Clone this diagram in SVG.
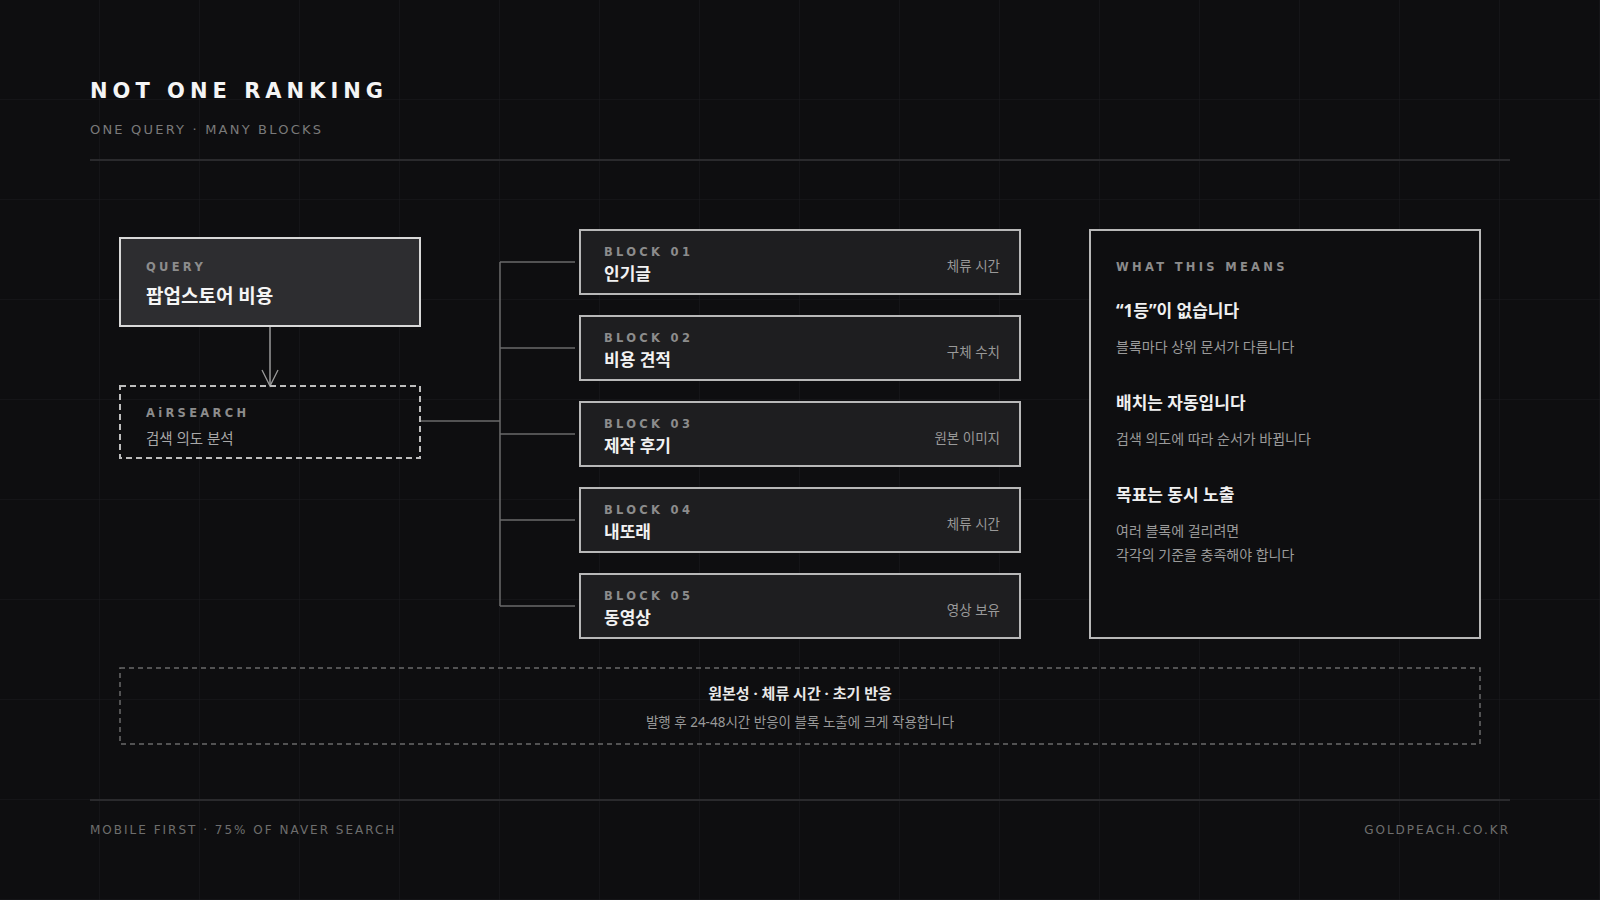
<svg xmlns="http://www.w3.org/2000/svg" width="1600" height="900" viewBox="0 0 1600 900">
<defs>
<pattern id="grid" width="100" height="100" patternUnits="userSpaceOnUse"><path d="M100 0V100M0 100H100" fill="none" stroke="#1c1c1f" stroke-width="1"/></pattern>
<style>
text{font-family:"Noto Sans","Noto Sans CJK KR",sans-serif}
.en{font-family:"DejaVu Sans",sans-serif}
.lab{font-family:"DejaVu Sans",sans-serif;font-size:11.5px;font-weight:700;letter-spacing:3.3px;fill:#8c8c8c}
.ttl{font-size:17px;font-weight:700;fill:#f2f2f2}
.side{font-size:13.5px;fill:#999;text-anchor:end}
.blk{fill:#1e1e20;stroke:#b8b8b8;stroke-width:2}
.con{fill:none;stroke:#6a6a6a;stroke-width:1.5}
.h{font-size:17px;font-weight:700;fill:#f0f0f0}
.d{font-size:14px;fill:#9a9a9a}
</style>
</defs>
<rect width="1600" height="900" fill="#0e0e10"/>
<rect width="1600" height="900" fill="url(#grid)"/>
<text class="en" x="90" y="98" font-size="21" font-weight="700" letter-spacing="5" fill="#f5f5f5">NOT ONE RANKING</text>
<text class="en" x="90" y="134" font-size="13" letter-spacing="2.2" fill="#7a7a7a">ONE QUERY · MANY BLOCKS</text>
<line x1="90" y1="160" x2="1510" y2="160" stroke="#2a2a2d" stroke-width="2"/>
<g id="connectors">
<line x1="270" y1="326" x2="270" y2="386" stroke="#9a9a9a" stroke-width="1.5"/>
<path d="M262 370L270 386L278 370" fill="none" stroke="#9a9a9a" stroke-width="1.3"/>
<path class="con" d="M420 421H500M500 262V606M500 262H575M500 348H575M500 434H575M500 520H575M500 606H575"/>
</g>
<g id="query"><rect x="120" y="238" width="300" height="88" fill="#2d2d30" stroke="#d8d8d8" stroke-width="2"/>
<text class="lab" x="146" y="271">QUERY</text><text x="146" y="303" font-size="19" font-weight="700" fill="#f5f5f5">팝업스토어 비용</text></g>
<g id="airsearch"><rect x="120" y="386" width="300" height="72" fill="none" stroke="#bdbdbd" stroke-width="2" stroke-dasharray="6 4"/>
<text class="lab" x="146" y="417">AiRSEARCH</text><text x="146" y="444" font-size="14.5" fill="#a8a8a8">검색 의도 분석</text></g>
<g id="block1"><rect class="blk" x="580" y="230" width="440" height="64"/><text class="lab" x="604" y="256">BLOCK 01</text><text class="ttl" x="604" y="280">인기글</text><text class="side" x="1000" y="271">체류 시간</text></g>
<g id="block2"><rect class="blk" x="580" y="316" width="440" height="64"/><text class="lab" x="604" y="342">BLOCK 02</text><text class="ttl" x="604" y="366">비용 견적</text><text class="side" x="1000" y="357">구체 수치</text></g>
<g id="block3"><rect class="blk" x="580" y="402" width="440" height="64"/><text class="lab" x="604" y="428">BLOCK 03</text><text class="ttl" x="604" y="452">제작 후기</text><text class="side" x="1000" y="443">원본 이미지</text></g>
<g id="block4"><rect class="blk" x="580" y="488" width="440" height="64"/><text class="lab" x="604" y="514">BLOCK 04</text><text class="ttl" x="604" y="538">내또래</text><text class="side" x="1000" y="529">체류 시간</text></g>
<g id="block5"><rect class="blk" x="580" y="574" width="440" height="64"/><text class="lab" x="604" y="600">BLOCK 05</text><text class="ttl" x="604" y="624">동영상</text><text class="side" x="1000" y="615">영상 보유</text></g>
<g id="means"><rect x="1090" y="230" width="390" height="408" fill="#0e0e10" stroke="#b8b8b8" stroke-width="2"/>
<text class="lab" x="1116" y="271">WHAT THIS MEANS</text>
<text class="h" x="1116" y="317">“1등”이 없습니다</text><text class="d" x="1116" y="352">블록마다 상위 문서가 다릅니다</text>
<text class="h" x="1116" y="409">배치는 자동입니다</text><text class="d" x="1116" y="444">검색 의도에 따라 순서가 바뀝니다</text>
<text class="h" x="1116" y="501">목표는 동시 노출</text><text class="d" x="1116" y="536">여러 블록에 걸리려면</text><text class="d" x="1116" y="560">각각의 기준을 충족해야 합니다</text></g>
<g id="note"><rect x="120" y="668" width="1360" height="76" fill="none" stroke="#6a6a6a" stroke-width="1.5" stroke-dasharray="5 4"/>
<text x="800" y="699" text-anchor="middle" font-size="15" font-weight="700" fill="#e8e8e8" font-family="'Noto Sans CJK KR',sans-serif">원본성 · 체류 시간 · 초기 반응</text>
<text x="800" y="727" text-anchor="middle" font-size="13.5" fill="#9a9a9a" font-family="'Noto Sans CJK KR',sans-serif">발행 후 24-48시간 반응이 블록 노출에 크게 작용합니다</text></g>
<line x1="90" y1="800" x2="1510" y2="800" stroke="#2a2a2d" stroke-width="2"/>
<text class="en" x="90" y="834" font-size="12" letter-spacing="2" fill="#6e6e6e">MOBILE FIRST · 75% OF NAVER SEARCH</text>
<text class="en" x="1510" y="834" text-anchor="end" font-size="12" letter-spacing="2" fill="#6e6e6e">GOLDPEACH.CO.KR</text>
</svg>
